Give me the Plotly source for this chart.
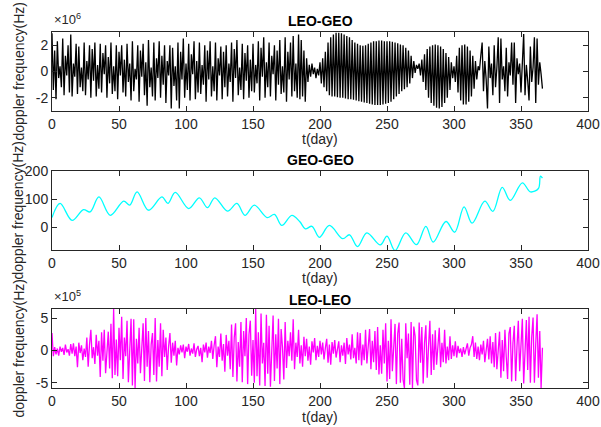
import plotly.graph_objects as go

# ---------------- data ----------------
# LEO-GEO doppler frequency, one value per day (units of 1e6 Hz)
LEO_GEO_E6 = [
    2.9, -1.4, 1.6, -2.1, 2.3, -0.5, 0.4, -1.2, 2.5, -1.8,
    1.2, -0.3, 2.0, -1.6, 2.8, -1.9, 0.6, -0.4, 2.1, -1.7,
    1.9, -1.2, 0.3, -1.5, 2.2, -1.8, 0.8, -0.6, 2.0, -2.0,
    1.7, -0.7, 2.2, -1.9, 0.5, -1.3, 2.1, -1.6, 1.4, -0.2,
    2.0, -2.0, 1.1, -0.9, 2.2, -1.7, 0.4, -1.5, 2.0, -2.1,
    1.5, -0.3, 2.0, -1.6, 0.9, -1.9, 2.1, -0.8, 0.6, -2.2,
    2.3, -1.5, 0.2, -0.6, 2.0, -2.3, 1.6, -0.4, 2.1, -1.8,
    0.7, -2.6, 2.4, -1.2, 0.3, -1.9, 2.2, -2.2, 1.0, -0.5,
    2.3, -2.0, 1.2, -1.0, 2.0, -2.4, 0.8, -0.3, 2.0, -2.8,
    1.8, -1.1, 0.4, -2.2, 2.2, -2.8, 1.5, -0.6, 2.5, -2.0,
    0.6, -1.4, 2.1, -2.2, 1.3, -0.2, 2.3, -2.1, 0.8, -1.6,
    2.2, -1.7, 0.5, -1.0, 2.0, -2.3, 1.6, -0.6, 2.3, -1.9,
    0.4, -1.5, 2.2, -2.2, 1.0, -0.3, 1.9, -2.1, 1.5, -1.2,
    2.0, -1.9, 0.6, -0.8, 2.2, -2.3, 1.7, -0.5, 2.4, -1.8,
    0.3, -1.4, 2.1, -2.1, 1.4, -0.7, 2.0, -2.0, 0.9, -1.5,
    2.1, -1.6, 0.5, -0.9, 2.3, -2.2, 1.8, -0.4, 2.6, -2.0,
    0.7, -1.2, 2.2, -1.9, 1.2, -0.2, 2.0, -2.2, 1.6, -1.0,
    2.4, -1.7, 0.4, -1.6, 2.6, -2.3, 1.5, -0.6, 2.2, -1.9,
    2.7, -1.5, 0.6, -2.0, 2.8, -2.1, 2.4, -1.9, 1.6, -2.3,
    1.0, -0.8, 0.5, -0.4, 0.6, -0.2, 0.3, -0.5, 0.2, -0.3,
    0.7, -0.9, 1.0, -1.2, 1.5, -1.5, 2.2, -1.8, 2.6, -1.9,
    2.8, -1.9, 2.95, -1.95, 2.95, -2.0, 2.9, -2.0, 2.8, -2.05,
    2.7, -2.1, 2.6, -2.1, 2.4, -2.15, 2.2, -2.2, 2.1, -2.25,
    2.0, -2.3, 1.95, -2.35, 2.0, -2.4, 2.1, -2.45, 2.2, -2.5,
    2.3, -2.55, 2.3, -2.55, 2.35, -2.55, 2.35, -2.5, 2.3, -2.45,
    2.3, -2.4, 2.3, -2.3, 2.25, -2.1, 2.2, -1.9, 2.15, -1.7,
    2.05, -1.5, 2.0, -1.35, 1.8, -1.2, 1.6, -0.9, 1.2, -0.5,
    0.8, -0.1, 0.5, 0.2, 0.6, -0.3, 0.9, -0.8, 1.3, -1.4,
    1.7, -2.0, 1.9, -2.4, 2.0, -2.6, 2.05, -2.75, 2.0, -2.8,
    1.9, -2.7, 1.7, -2.4, 1.4, -2.0, 1.1, -1.4, 0.7, -0.5,
    0.4, -0.8, 1.2, -1.6, 1.8, -2.2, 2.0, -2.5, 2.05, -2.5,
    1.9, -2.3, 1.6, -1.9, 1.2, -1.3, 0.8, -0.6, 0.4, 0.1,
    1.2, 2.2, -1.5, 0.8, -0.6, -2.8, 1.9, -0.5, 0.6, -1.8,
    2.0, -1.2, 0.3, 2.6, -2.4, 2.5, -0.6, 0.4, -1.5, 1.8,
    -1.9, 0.7, -0.3, 2.2, -1.0, 2.2, -2.4, 1.0, -0.2, 0.6,
    -1.6, 1.4, 2.85, -1.8, 0.5, -0.7, -2.2, 1.9, -0.8, 0.3,
    2.6, -2.4, 2.5, -1.0, 0.7, -0.2, -1.3,
]

# GEO-GEO doppler frequency (Hz) read at turning points
GEO_GEO_DAY = [0, 6, 15, 23.5, 28.5, 35, 43.5, 53.5, 58, 63.5, 72, 82, 86.5, 92,
               102, 110, 116, 121.5, 131, 138, 144, 151, 160.5, 166, 171.5, 179,
               185, 189, 194, 199.5, 207, 217, 222, 228, 235, 245, 250, 256, 264,
               272, 279, 284.5, 294, 300.5, 307.5, 313.5, 323, 329, 336, 342, 351,
               357, 363, 364.5, 366]
GEO_GEO_HZ = [35, 85, 25, 63, 55, 108, 43, 93, 79, 126, 61, 108, 85, 124,
              67, 105, 70, 105, 58, 85, 43, 79, 35, 46, 7, 43,
              20, -5, 4, -35, 7, -40, -26, -68, -19, -62, -31, -82, -19,
              -61, 4, -52, 21, -17, 73, 15, 93, 57, 142, 96, 158,
              126, 138, 182, 175]

# LEO-LEO doppler frequency, one value per day (units of 1e5 Hz)
LEO_LEO_E5 = [
    2.7, -0.9, 0.5, -0.6, 0.3, -0.8, 0.6, -0.2, 0.4, -0.7,
    0.9, -0.3, 0.2, -0.8, 1.0, -0.5, 1.1, -0.9, 0.6, -2.6,
    1.2, -0.4, 0.8, -1.5, 0.3, -1.0, 2.0, -2.5, 0.9, 3.2,
    -1.2, 0.5, -2.1, 2.4, -0.8, 1.5, -4.1, 2.8, -1.6, 3.2,
    -3.5, 0.6, 2.9, -2.8, 4.1, -4.3, 6.4, -3.8, 1.7, -4.0,
    3.5, -1.5, 5.2, -4.4, 2.0, -0.9, 4.6, -4.9, 1.5, 4.9,
    -5.4, 4.8, -5.8, 1.8, -2.0, 3.5, -3.5, 0.7, 4.2, -4.7,
    5.0, -2.5, 3.0, -4.9, 0.9, 2.7, -3.8, 5.0, -4.8, 1.6,
    -2.5, 4.2, -4.0, 3.2, -1.0, 2.0, -3.0, 0.6, 2.7, -1.9,
    1.2, -0.8, 1.5, -2.3, 0.4, -0.6, 0.8, -0.3, 0.9, -1.2,
    0.6, -0.2, 1.0, -0.8, 0.3, -0.5, 1.1, -1.0, 0.2, 0.7,
    -0.9, 0.4, -1.8, 0.9, -0.3, 1.2, -1.1, 0.6, -0.4, 1.5,
    -1.3, 0.8, 2.2, -2.6, 0.6, -1.0, 2.6, -1.6, 1.0, -3.3,
    2.4, -0.8, 1.5, -2.9, 4.0, -4.1, 2.0, 4.2, -4.8, 1.3,
    -2.5, 4.4, -4.9, 3.0, -0.9, 5.0, -5.2, 2.5, 4.6, -3.9,
    1.6, -5.0, 6.4, -4.0, 2.8, -5.4, 5.7, -2.0, 1.2, -5.5,
    5.5, -3.6, 3.8, -5.6, 0.8, 5.4, -4.7, 2.5, -2.8, 4.9,
    -5.2, 3.3, 0.5, -4.5, 4.4, -2.7, 1.5, -0.9, 2.8, -1.6,
    4.8, -2.9, 1.2, -1.0, 3.2, -2.0, 0.8, -2.5, 2.1, -0.9,
    1.8, -1.6, 0.6, -2.2, 1.4, -0.3, 1.9, -1.5, 0.7, -1.0,
    1.5, -0.6, 1.2, -1.4, 0.4, 1.8, -1.9, 0.9, -2.2, 1.3,
    -0.5, 1.6, -1.1, 0.3, 1.4, -1.8, 0.8, -0.8, 1.2, -2.1,
    1.9, -0.6, 0.9, -1.4, 2.5, -1.2, 0.4, -2.0, 2.8, -1.5,
    2.7, -2.3, 0.9, -1.5, 3.2, -2.0, 1.1, 3.3, -2.9, 1.5,
    -1.8, 3.0, -3.0, 3.6, -3.7, 0.8, -3.6, 3.2, -2.0, 4.2,
    -4.8, 1.5, -4.4, 4.8, -3.2, 0.9, 4.1, -5.2, 2.6, 4.3,
    -5.0, 1.8, -4.5, -5.8, 4.2, -1.2, 2.6, -5.3, 4.4, -5.8,
    3.7, 2.2, -4.6, -5.4, 4.3, -1.9, 3.6, -5.1, 1.2, 3.9,
    -4.2, 0.7, 4.6, -3.8, 2.5, -3.0, 3.1, -2.2, 0.9, 3.5,
    -2.6, 1.2, -1.8, 3.2, -2.0, 0.6, -1.5, 2.2, -1.3, 0.8,
    -0.9, 1.4, -1.1, 0.7, -0.4, 0.3, -1.0, 0.5, -0.6, 0.2,
    1.1, -0.8, 0.4, 0.9, 2.2, -1.0, 1.2, -1.3, 0.6, -1.5,
    0.9, -0.6, 1.5, -1.8, 0.5, 1.8, -1.4, 2.2, -2.0, 1.3,
    -2.6, 2.7, -2.9, 0.9, 2.9, -4.2, 1.6, -3.2, 3.2, -1.0,
    -4.4, 2.6, 3.6, -4.8, 1.2, 3.8, -4.7, 0.6, 4.6, -3.2,
    1.9, 4.9, -5.1, 1.5, 4.7, -3.0, 5.2, -5.0, 2.1, 5.1,
    -5.0, 1.0, 5.6, -4.2, 3.0, -5.8, 0.4,
]

X_TICKS = [0, 50, 100, 150, 200, 250, 300, 350, 400]
TITLES = ["LEO-GEO", "GEO-GEO", "LEO-LEO"]
Y1_TICKS, Y1_TEXT = [-2, 0, 2], ["-2", "0", "2"]
Y2_TICKS, Y2_TEXT = [0, 100, 200], ["0", "100", "200"]
Y3_TICKS, Y3_TEXT = [-5, 0, 5], ["-5", "0", "5"]

# ---------------- figure ----------------
FONT = "Liberation Sans, Arial, sans-serif"
AX = "#262626"

fig = go.Figure()
fig.add_trace(go.Scatter(x=list(range(len(LEO_GEO_E6))), y=LEO_GEO_E6, mode="lines",
                         line=dict(color="black", width=1.3), xaxis="x", yaxis="y"))
fig.add_trace(go.Scatter(x=GEO_GEO_DAY, y=GEO_GEO_HZ, mode="lines",
                         line=dict(color="#00FFFF", width=1.3, shape="spline", smoothing=1.0),
                         xaxis="x2", yaxis="y2"))
fig.add_trace(go.Scatter(x=list(range(len(LEO_LEO_E5))), y=LEO_LEO_E5, mode="lines",
                         line=dict(color="#FF00FF", width=1.3), xaxis="x3", yaxis="y3"))

L, R, T, B = 52, 13, 32, 39
W, H = 601, 427
PH = H - T - B  # 356


def dom(top_px, bot_px):
    return [(H - B - bot_px) / PH, (H - B - top_px) / PH]


def py(px):
    return (H - B - px) / PH


def px_x(px):
    return (px - L) / (W - L - R)


common_x = dict(range=[0, 400], tickvals=X_TICKS, ticks="inside", ticklen=5,
                showline=True, linecolor=AX, linewidth=1, mirror="allticks",
                tickcolor=AX, showgrid=False, zeroline=False, automargin=False,
                tickfont=dict(family=FONT, size=14, color=AX))
common_y = dict(ticks="inside", ticklen=5, showline=True, linecolor=AX, linewidth=1,
                mirror="allticks", tickcolor=AX, showgrid=False, zeroline=False,
                automargin=False, tickfont=dict(family=FONT, size=14, color=AX))

fig.update_layout(
    template="none",
    width=W, height=H,
    margin=dict(l=L, r=R, t=T, b=B, pad=0),
    paper_bgcolor="white", plot_bgcolor="white",
    showlegend=False,
    xaxis=dict(common_x, domain=[0, 1], anchor="y"),
    yaxis=dict(common_y, domain=dom(32, 111), range=[-3, 3], tickvals=Y1_TICKS, ticktext=Y1_TEXT, anchor="x"),
    xaxis2=dict(common_x, domain=[0, 1], anchor="y2"),
    yaxis2=dict(common_y, domain=dom(171, 250), range=[-80, 200], tickvals=Y2_TICKS, ticktext=Y2_TEXT, anchor="x2"),
    xaxis3=dict(common_x, domain=[0, 1], anchor="y3"),
    yaxis3=dict(common_y, domain=dom(309, 388), range=[-5.8, 6.4], tickvals=Y3_TICKS, ticktext=Y3_TEXT, anchor="x3"),
)

ann = []
title_px = [21, 160, 300]
xlabel_px = [139, 278, 417]
ycenter_px = [71.5, 210.5, 348.5]
for i in range(3):
    ann.append(dict(text="<b>%s</b>" % TITLES[i], x=0.5, y=py(title_px[i]), xref="paper", yref="paper",
                    xanchor="center", yanchor="middle", showarrow=False,
                    font=dict(family=FONT, size=14, color="black")))
    ann.append(dict(text="t(day)", x=0.5, y=py(xlabel_px[i]), xref="paper", yref="paper",
                    xanchor="center", yanchor="middle", showarrow=False,
                    font=dict(family=FONT, size=14, color=AX)))
    ann.append(dict(text="doppler frequency(Hz)", x=px_x(18), y=py(ycenter_px[i]), xref="paper", yref="paper",
                    xanchor="center", yanchor="middle", textangle=-90, showarrow=False,
                    font=dict(family=FONT, size=14, color=AX)))
ann.append(dict(text="×10<sup>6</sup>", x=0, y=py(29), xref="paper", yref="paper",
                xanchor="left", yanchor="bottom", showarrow=False,
                font=dict(family=FONT, size=13, color=AX)))
ann.append(dict(text="×10<sup>5</sup>", x=0, y=py(306), xref="paper", yref="paper",
                xanchor="left", yanchor="bottom", showarrow=False,
                font=dict(family=FONT, size=13, color=AX)))
fig.update_layout(annotations=ann)

fig.write_html("out.html", config={"displayModeBar": False},
               post_script="document.body.style.margin='0';document.body.style.padding='0';")
